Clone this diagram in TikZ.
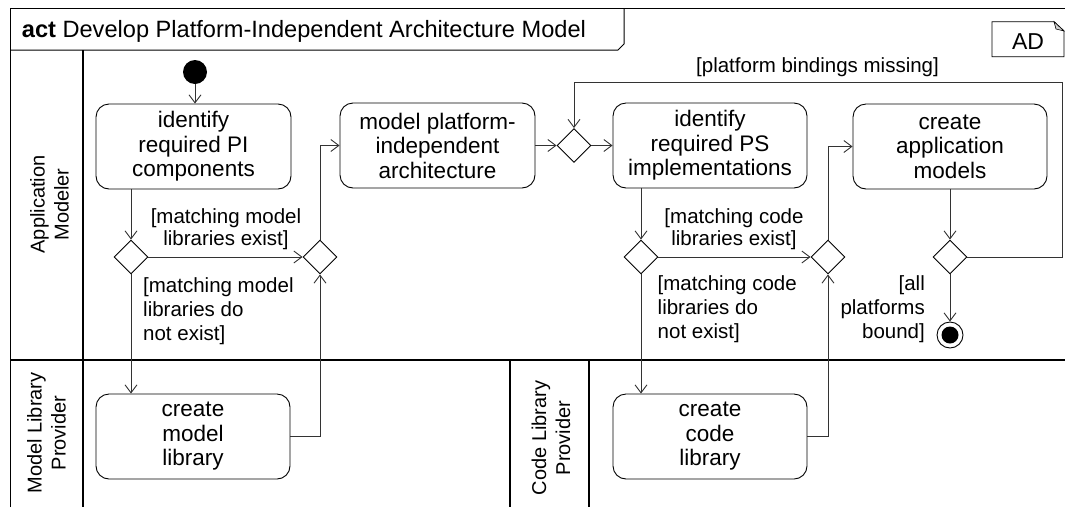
\documentclass[tikz,border=0pt]{standalone}
\usepackage{fontspec}
\setmainfont{Liberation Sans}
\usetikzlibrary{arrows.meta,shapes.geometric}
\begin{document}
\begin{tikzpicture}[x=1pt,y=-1pt,
 actbox/.style={draw=black, line width=0.9pt, rounded corners=13pt, minimum width=195pt, minimum height=85pt, align=center, inner sep=0pt, font=\fontsize{22.5}{24.5}\selectfont},
 dec/.style={draw=black, diamond, line width=0.9pt, minimum width=34pt, minimum height=34pt, inner sep=0pt},
 flow/.style={draw=black!80, line width=0.9pt, -{Straight Barb[length=8pt,width=12pt]}},
 guard/.style={font=\fontsize{20.5}{22}\selectfont, inner sep=0pt},
 guard3/.style={font=\fontsize{20.5}{24}\selectfont, inner sep=0pt},
 lane/.style={line width=2pt},
 lanelabel/.style={rotate=90, align=center, font=\fontsize{20}{24}\selectfont, inner sep=0pt}
]
\useasboundingbox (0,0) rectangle (1065,507);
% frame
\draw[line width=1pt] (10,507) -- (10,8) -- (1065,8);
\draw[line width=1pt] (10,50) -- (618,50) -- (624,44) -- (624,8);
\node[anchor=west, inner sep=0pt, font=\fontsize{23.6}{26}\selectfont] (title) at (21.7,31) {\textbf{act} Develop Platform-Independent Architecture Model};
% AD tag
\draw[line width=0.9pt] (992,21.7) -- (1054,21.7) -- (1064,31) -- (1064,56.7) -- (992,56.7) -- cycle;
\draw[line width=0.6pt, fill=gray!35] (1054,21.7) -- (1056,29) -- (1064,31) -- cycle;
\node[font=\fontsize{23}{23}\selectfont, inner sep=0pt] (ad) at (1028,41.7) {AD};
% lanes
\draw[lane] (83,50) -- (83,507);
\draw[lane] (10,360) -- (1065,360);
\draw[lane] (510,360) -- (510,507);
\draw[lane] (589,360) -- (589,507);
\node[lanelabel] (l1) at (49.5,204.5) {Application\\Modeler};
\node[lanelabel] (l2) at (46.5,433) {Model Library\\Provider};
\node[lanelabel] (l3) at (551,438) {Code Library\\Provider};
% actions
\node[actbox] (b1) at (193.5,146.5) {identify\\required PI\\components};
\node[actbox] (b2) at (437.5,145.5) {model platform-\\independent\\architecture};
\node[actbox, minimum width=194pt] (b3) at (710,145.5) {identify\\required PS\\implementations};
\node[actbox, minimum width=194pt] (b4) at (950,146.5) {create\\application\\models};
\node[actbox, minimum width=194pt] (b5) at (193,436.5) {create\\model\\library};
\node[actbox, minimum width=194pt] (b6) at (710,436.5) {create\\code\\library};
% decisions
\node[dec] (d1) at (131,257) {};
\node[dec] (d2) at (320,257) {};
\node[dec] (d3) at (574,145.5) {};
\node[dec] (d4) at (641,257) {};
\node[dec] (d5) at (828,257) {};
\node[dec] (d6) at (950,257) {};
% initial / final
\node[circle, fill=black, minimum size=24pt, inner sep=0pt] (init) at (195,72) {};
\node[circle, draw=black, line width=0.9pt, minimum size=26pt, inner sep=0pt] (fin) at (950,335) {};
\node[circle, fill=black, minimum size=17pt, inner sep=0pt] (finin) at (fin) {};
% flows
\draw[flow] (init) -- (init |- b1.north);
\draw[flow] (b1.south -| d1) -- (d1.north);
\draw[flow] (d1.east) -- (d2.west);
\draw[flow] (d1.south) -- (d1 |- b5.north);
\draw[flow] (b5.east) -| (d2.south);
\draw[flow] (d2.north) |- (b2.west);
\draw[flow] (b2.east) -- (d3.west);
\draw[flow] (d3.east) -- (b3.west);
\draw[flow] (b3.south -| d4) -- (d4.north);
\draw[flow] (d4.east) -- (d5.west);
\draw[flow] (d4.south) -- (d4 |- b6.north);
\draw[flow] (b6.east) -| (d5.south);
\draw[flow] (d5.north) |- (b4.west);
\draw[flow] (b4.south -| d6) -- (d6.north);
\draw[flow] (d6.south) -- (fin.north);
\coordinate (loopc) at (1062,82);
\draw[flow] (d6.east) -| (loopc) -| (d3.north);
% guards
\node[guard, align=center] (g1) at (226,229) {[matching model\\libraries exist]};
\node[guard3, align=left, anchor=west] (g2) at (143,311) {[matching model\\libraries do\\not exist]};
\node[guard, align=center] (g3) at (734,229) {[matching code\\libraries exist]};
\node[guard3, align=left, anchor=west] (g4) at (657.5,309.5) {[matching code\\libraries do\\not exist]};
\node[guard3, align=right, anchor=east] (g5) at (925,309.5) {[all\\platforms\\bound]};
\node[guard] (g6) at (817.5,66.7) {[platform bindings missing]};
\end{tikzpicture}
\end{document}
